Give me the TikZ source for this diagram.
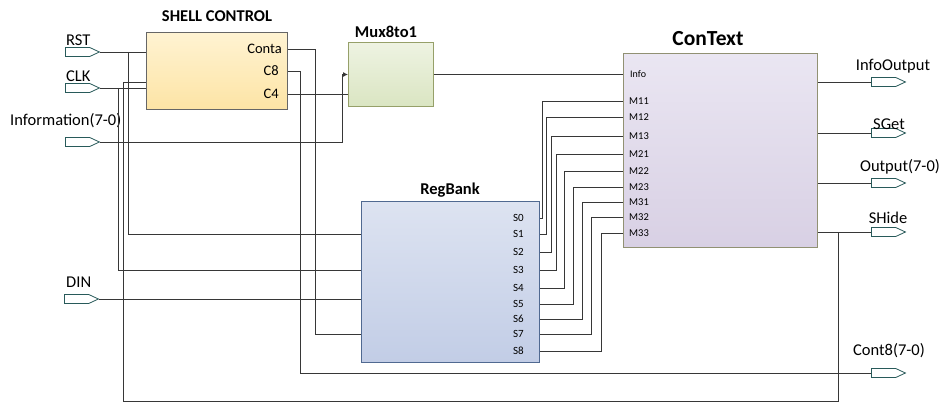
\documentclass[tikz,border=0pt]{standalone}
\usepackage{fontspec}
\setmainfont{Carlito}
\usetikzlibrary{shapes.symbols, arrows.meta}
\definecolor{wirecol}{RGB}{55,55,55}
\definecolor{portcol}{RGB}{40,90,90}
\definecolor{shelltop}{RGB}{255,243,210}
\definecolor{shellbot}{RGB}{253,228,165}
\definecolor{muxtop}{RGB}{238,243,226}
\definecolor{muxbot}{RGB}{218,229,194}
\definecolor{cttop}{RGB}{234,230,242}
\definecolor{ctbot}{RGB}{216,208,228}
\definecolor{rbtop}{RGB}{221,227,241}
\definecolor{rbbot}{RGB}{194,205,230}
\definecolor{muxline}{RGB}{150,160,105}
\definecolor{ctline}{RGB}{145,145,115}
\definecolor{rbline}{RGB}{80,105,145}

\begin{document}
\begin{tikzpicture}[x=1pt, y=-1pt,
    wire/.style={draw=wirecol, line width=0.9pt},
    port/.style={shape=signal, signal to=east, signal pointer angle=50, draw=portcol, fill=white,
                 line width=0.8pt, minimum width=34pt, minimum height=9pt, inner sep=0pt, anchor=west},
    plabel/.style={font=\fontsize{16.5}{16.5}\selectfont, inner sep=0pt},
    block/.style={rectangle, line width=1pt, anchor=north west, inner sep=0pt},
    btitle/.style={font=\fontsize{16.5}{16.5}\selectfont\bfseries, inner sep=0pt},
    slab/.style={font=\fontsize{14.5}{14.5}\selectfont, inner sep=0pt, anchor=east},
    rlab/.style={font=\fontsize{11}{11}\selectfont, inner sep=0pt, anchor=east},
    mlab/.style={font=\fontsize{10.5}{10.5}\selectfont, inner sep=0pt, anchor=west}]
    \useasboundingbox (0,0) rectangle (941,403);

    % Blocks
    \node[block, draw=black!60, top color=shelltop, bottom color=shellbot, minimum width=141pt, minimum height=77pt] (shell) at (146,32) {};
    \node[block, draw=muxline, top color=muxtop, bottom color=muxbot, minimum width=85pt, minimum height=64pt] (mux) at (348,42) {};
    \node[block, draw=ctline, top color=cttop, bottom color=ctbot, minimum width=194pt, minimum height=194pt] (ct) at (623,53) {};
    \node[block, draw=rbline, top color=rbtop, bottom color=rbbot, minimum width=178pt, minimum height=161pt] (rb) at (361,201) {};

    % Titles
    \node[btitle] (shelltitle) at (217,16) {SHELL CONTROL};
    \node[btitle] (muxtitle) at (386,32) {Mux8to1};
    \node[btitle, font=\fontsize{21.5}{21.5}\selectfont\bfseries] (cttitle) at (708,39) {ConText};
    \node[btitle] (rbtitle) at (450,190) {RegBank};

    % Block pins
    \node[slab] (conta) at (282,49) {Conta};
    \node[slab] (c8) at (279,71) {C8};
    \node[slab] (c4) at (279,94) {C4};
    \foreach \n/\y in {0/218, 1/234, 2/252, 3/270, 4/288, 5/304, 6/319, 7/334, 8/351}
        \node[rlab] (s\n) at (524,\y) {S\n};
    \node[mlab, font=\fontsize{10}{10}\selectfont] (cinfo) at (630,74) {Info};
    \foreach \n/\y in {11/101, 12/117, 13/136, 21/154, 22/171, 23/187, 31/202, 32/217, 33/233}
        \node[mlab] (m\n) at (629,\y) {M\n};

    % Ports
    \node[port] (rst) at (65,52) {};
    \node[port] (clk) at (65,88) {};
    \node[port] (info) at (65,142) {};
    \node[port] (din) at (64,299) {};
    \node[port] (infoout) at (871,82) {};
    \node[port] (sget) at (871,133) {};
    \node[port] (outp) at (871,183) {};
    \node[port] (shide) at (871,232) {};
    \node[port] (cont8) at (871,373) {};

    \node[plabel, anchor=base west] (rstlab) at (66,46) {RST};
    \node[plabel, anchor=base west] (clklab) at (66,82) {CLK};
    \node[plabel, anchor=base west] (infolab) at (10,126) {Information(7-0)};
    \node[plabel, anchor=base west] (dinlab) at (66,287) {DIN};
    \node[plabel, anchor=base] (infooutlab) at (893,71) {InfoOutput};
    \node[plabel, anchor=base] (sgetlab) at (889,130) {SGet};
    \node[plabel, anchor=base] (outplab) at (900,172) {Output(7-0)};
    \node[plabel, anchor=base] (shidelab) at (888,223) {SHide};
    \node[plabel, anchor=base] (cont8lab) at (889,355) {Cont8(7-0)};

    % Bus columns
    \coordinate (xrst) at (128,0);
    \coordinate (xclk) at (118,0);
    \coordinate (xfb) at (123,0);
    \coordinate (xc8) at (300,0);
    \coordinate (xconta) at (315,0);
    \coordinate (xinf) at (342,0);
    \coordinate (xsh) at (838,0);
    \coordinate (ybot) at (0,401);
    \coordinate (yfb) at (0,82);

    % Wires
    \draw[wire] (rst.east) -- (rst.east -| shell.west);
    \draw[wire] (xrst |- rst.east) |- (rb.west |- s1);
    \draw[wire] (clk.east) -- (clk.east -| shell.west);
    \draw[wire] (xclk |- clk.east) |- (rb.west |- s3);
    \draw[wire] (din.east) -- (din.east -| rb.west);
    \draw[wire, -{Latex[length=5pt, width=5pt]}] (info.east) -| (xinf |- mux.west) -- (mux.west);
    \draw[wire] (shell.east |- c4) -- (mux.west |- c4);
    \draw[wire] (shell.east |- conta) -| (xconta |- s7) -- (rb.west |- s7);
    \draw[wire] (shell.east |- c8) -| (xc8 |- cont8.west) -- (cont8.west);
    \draw[wire] (mux.east) -- (ct.west |- mux.east);
    \foreach \s/\m/\x in {0/11/542, 1/12/546, 2/13/551, 3/21/556, 4/22/564, 5/23/573, 6/31/582, 7/32/591, 8/33/601} {
        \coordinate (bus\s) at (\x,0);
        \draw[wire] (rb.east |- s\s) -| (bus\s |- m\m) -- (ct.west |- m\m);
    }
    \foreach \p in {infoout, sget, outp, shide}
        \draw[wire] (ct.east |- \p.west) -- (\p.west);
    \draw[wire] (xsh |- shide.west) -- (xsh |- ybot) -| (xfb |- yfb) -- (shell.west |- yfb);
\end{tikzpicture}
\end{document}
